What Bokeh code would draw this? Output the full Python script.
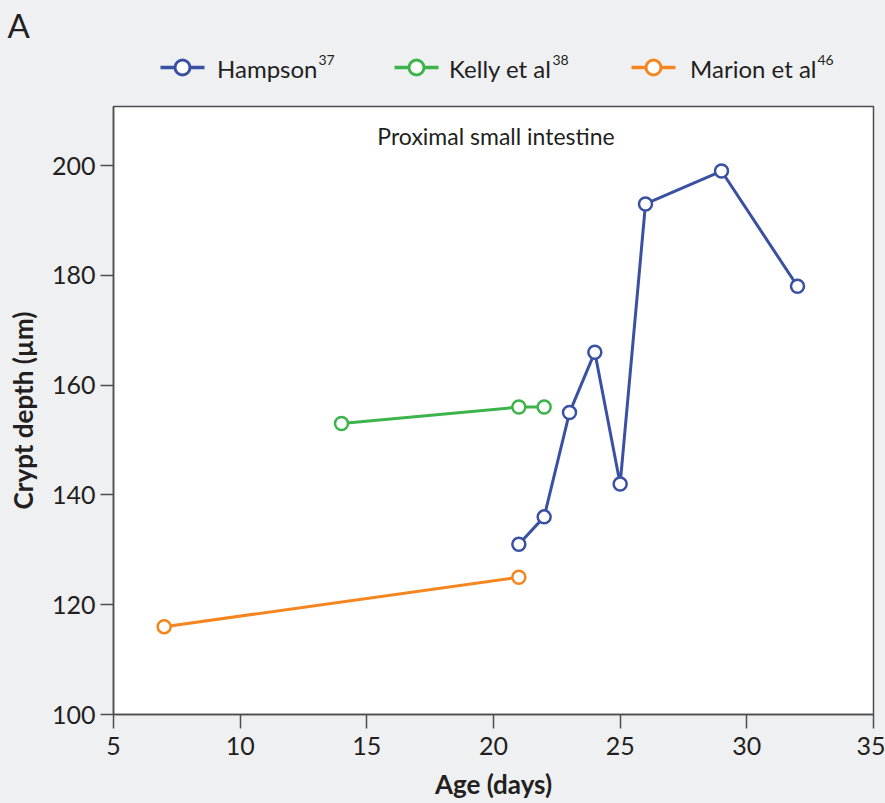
from bokeh.plotting import figure
from bokeh.models import Range1d, Label, FixedTicker
from bokeh.layouts import column
from bokeh.embed import file_html
from bokeh.resources import INLINE
from bokeh.core.properties import value

# ---- data ----
hampson_age = [21, 22, 23, 24, 25, 26, 29, 32]
hampson_depth = [131, 136, 155, 166, 142, 193, 199, 178]
kelly_age = [14, 21, 22]
kelly_depth = [153, 156, 156]
marion_age = [7, 21]
marion_depth = [116, 125]

series_names = ["Hampson", "Kelly et al", "Marion et al"]
series_refs = ["37", "38", "46"]
series_colors = ["#3a51a3", "#3cb44b", "#f5861f"]

x_ticks = [5, 10, 15, 20, 25, 30, 35]
y_ticks = [100, 120, 140, 160, 180, 200]

BG = "#eff0f2"
FONT = "Lato"
TXT = "#231f20"

W = 885
LEFT, RIGHT = 113, 12
A_H = 50
TOP_H = 96


def strip(height, **kw):
    f = figure(width=W, height=height, x_axis_type=None, y_axis_type=None,
               output_backend="svg", toolbar_location=None,
               min_border_left=LEFT, min_border_right=RIGHT,
               border_fill_color=BG, background_fill_color=BG,
               outline_line_color=None, **kw)
    f.grid.visible = False
    return f


# ---- panel letter strip ----
top = strip(A_H, x_range=Range1d(0, 1), y_range=Range1d(0, 1),
            min_border_top=44, min_border_bottom=0, title="A", title_location="above")
top.title.text_font = FONT
top.title.text_font_size = "33px"
top.title.text_font_style = "normal"
top.title.text_color = TXT
top.title.align = "left"
top.title.offset = -(LEFT - 7)
top.title.standoff = 4

# ---- legend strip (data coords == page pixels) ----
leg = strip(TOP_H - A_H, x_range=Range1d(LEFT, W - RIGHT), y_range=Range1d(TOP_H, A_H),
            min_border_top=0, min_border_bottom=0)

centers = [182, 416, 653]
sup_x = [317, 551, 816]
for name, ref, col, cx, sx in zip(series_names, series_refs, series_colors, centers, sup_x):
    leg.line([cx - 22, cx + 22], [67, 67], line_color=col, line_width=3.5)
    leg.scatter([cx], [67], marker="circle", size=15, fill_color="white",
                line_color=col, line_width=3)
    leg.text([sx], [68], text=[name], text_font=value(FONT), text_font_size="24px",
             text_color=TXT, text_align="right", text_baseline="alphabetic")
    leg.text([sx + 1], [59], text=[ref], text_font=value(FONT), text_font_size="14px",
             text_color=TXT, text_align="left", text_baseline="alphabetic")

# ---- main plot ----
p = figure(width=W, height=803 - TOP_H, x_range=Range1d(5, 35), y_range=Range1d(100, 210.75),
           output_backend="svg", toolbar_location=None,
           min_border_left=LEFT, min_border_right=RIGHT, min_border_top=10,
           min_border_bottom=89,
           border_fill_color=BG, background_fill_color="white",
           outline_line_color="#4d4d4d", outline_line_width=1.5)
p.grid.visible = False

for xs, ys, col in [(hampson_age, hampson_depth, series_colors[0]),
                    (kelly_age, kelly_depth, series_colors[1]),
                    (marion_age, marion_depth, series_colors[2])]:
    p.line(xs, ys, line_color=col, line_width=3)
    p.scatter(xs, ys, marker="circle", size=13, fill_color="white",
              line_color=col, line_width=2.5)

p.add_layout(Label(x=20.1, y=205.4, text="Proximal small intestine", text_font=FONT,
                   text_font_size="23px", text_color=TXT, text_align="center",
                   text_baseline="alphabetic"))

p.xaxis.ticker = FixedTicker(ticks=x_ticks)
p.yaxis.ticker = FixedTicker(ticks=y_ticks)
for ax in (p.xaxis, p.yaxis):
    ax.major_label_text_font = FONT
    ax.major_label_text_font_size = "25px"
    ax.major_label_text_color = TXT
    ax.axis_label_text_font = FONT
    ax.axis_label_text_font_size = "26px"
    ax.axis_label_text_font_style = "bold"
    ax.axis_label_text_color = TXT
    ax.axis_line_color = "#4d4d4d"
    ax.axis_line_width = 1.5
    ax.major_tick_line_color = "#4d4d4d"
    ax.major_tick_line_width = 1.5
    ax.major_tick_in = 0
    ax.minor_tick_line_color = None

p.xaxis.axis_label = "Age (days)"
p.yaxis.axis_label = "Crypt depth (µm)"
p.xaxis.major_tick_out = 14
p.yaxis.major_tick_out = 13
p.xaxis.major_label_standoff = 8
p.yaxis.major_label_standoff = 5
p.xaxis.axis_label_standoff = 10
p.yaxis.axis_label_standoff = 10

layout = column(top, leg, p, spacing=0, styles={"background-color": BG})
open("out.html", "w").write(file_html(layout, INLINE))
